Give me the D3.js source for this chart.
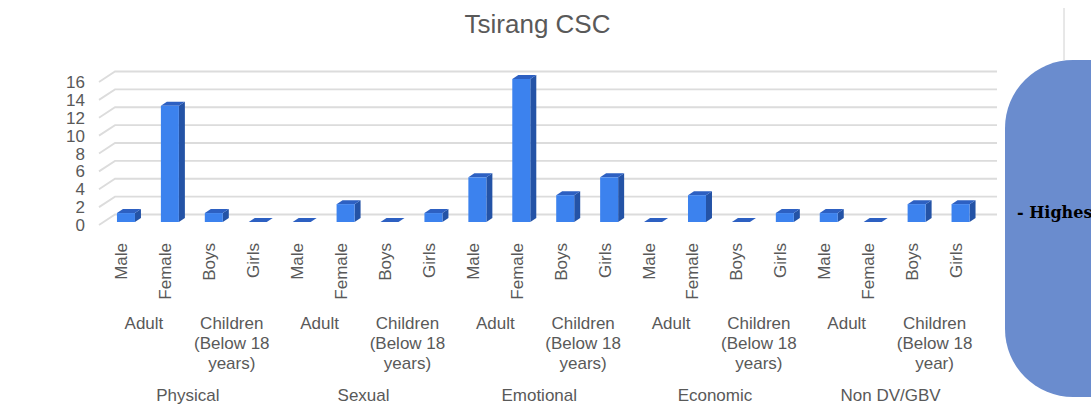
<!DOCTYPE html>
<html>
<head>
<meta charset="utf-8">
<script src="https://cdn.jsdelivr.net/npm/d3@7/dist/d3.min.js"></script>
<style>
  html, body { margin: 0; padding: 0; background: #fff; }
  svg { display: block; }
</style>
</head>
<body>
<svg id="chart" width="1091" height="408"></svg>
<script>
// Case counts by violence type, age group and sex
const violenceTypes = ["Physical", "Sexual", "Emotional", "Economic", "Non DV/GBV"];
const ageGroups = [
  [["Adult"], ["Children", "(Below 18", "years)"]],
  [["Adult"], ["Children", "(Below 18", "years)"]],
  [["Adult"], ["Children", "(Below 18", "years)"]],
  [["Adult"], ["Children", "(Below 18", "years)"]],
  [["Adult"], ["Children", "(Below 18", "year)"]]
];
const sexLabels = ["Male", "Female", "Boys", "Girls"];
const physical  = [1, 13, 1, 0];
const sexual    = [0, 2, 0, 1];
const emotional = [5, 16, 3, 5];
const economic  = [0, 3, 0, 1];
const nonDvGbv  = [1, 0, 2, 2];
const yTicks = [0, 2, 4, 6, 8, 10, 12, 14, 16];
const title = "Tsirang CSC";
const panelNote = "- Highest";

const seriesByType = [physical, sexual, emotional, economic, nonDvGbv];
const rows = [];
violenceTypes.forEach((t, ti) => {
  sexLabels.forEach((s, si) => {
    rows.push({ key: ti * 4 + si, type: t, ti, si, sex: s, value: seriesByType[ti][si] });
  });
});

const svg = d3.select("#chart");
const FONT = "'Liberation Sans', Arial, sans-serif";
const GREY = "#595959";

const x = d3.scaleBand().domain(rows.map(d => d.key)).range([100, 978.5]).padding(0);
const bw = x.bandwidth();
const cx = k => x(k) + bw / 2;

// back wall scale; bar fronts sit a little forward of it
const yBack = d3.scaleLinear().domain([0, 16]).range([214.5, 71.5]);
const frontDy = 7.5;
const yFront = v => yBack(v) + frontDy;
const depth = { dx: 6, dy: -4 };
const floorSlant = { dx: 16, dy: -10.5 };
const wallLeft = 115, wallRight = 997;

// title
svg.append("text")
  .attr("x", 537.5).attr("y", 33)
  .attr("text-anchor", "middle")
  .attr("font-family", FONT).attr("font-size", 26)
  .attr("fill", GREY)
  .text(title);

// gridlines: slanted side edge plus back wall line
const grid = svg.append("g");
yTicks.forEach(v => {
  const yb = yBack(v);
  grid.append("path")
    .attr("d", `M${wallLeft - floorSlant.dx},${yb - floorSlant.dy}L${wallLeft},${yb}L${wallRight},${yb}`)
    .attr("fill", "none").attr("stroke", "#dcdcdc").attr("stroke-width", 1.8);
});

// y tick labels
svg.append("g").selectAll("text").data(yTicks).join("text")
  .attr("x", 85).attr("y", v => yBack(v) + 11)
  .attr("text-anchor", "end").attr("dominant-baseline", "central")
  .attr("font-family", FONT).attr("font-size", 17).attr("fill", GREY)
  .text(d => d);

// 3D bars: side, top and front faces
const barW = 18;
const barLeft = k => cx(k) - 5;
const bars = svg.append("g").selectAll("g").data(rows).join("g");
bars.append("path")
  .attr("fill", "#2453a6")
  .attr("d", d => {
    const x1 = barLeft(d.key) + barW, yt = yFront(d.value), yb = yFront(0);
    return `M${x1},${yb}L${x1 + depth.dx},${yb + depth.dy}L${x1 + depth.dx},${yt + depth.dy}L${x1},${yt}Z`;
  });
bars.append("path")
  .attr("fill", "#2d60c2")
  .attr("d", d => {
    const x0 = barLeft(d.key), yt = yFront(d.value);
    return `M${x0},${yt}L${x0 + barW},${yt}L${x0 + barW + depth.dx},${yt + depth.dy}L${x0 + depth.dx},${yt + depth.dy}Z`;
  });
bars.filter(d => d.value > 0).append("rect")
  .attr("fill", "#3c82ee")
  .attr("x", d => barLeft(d.key))
  .attr("y", d => yFront(d.value))
  .attr("width", barW)
  .attr("height", d => yFront(0) - yFront(d.value));

// category labels, rotated
svg.append("g").selectAll("text").data(rows).join("text")
  .attr("transform", d => `translate(${cx(d.key)},243) rotate(-90)`)
  .attr("text-anchor", "end").attr("dominant-baseline", "central")
  .attr("font-family", FONT).attr("font-size", 17).attr("fill", GREY)
  .text(d => d.sex);

// age group labels
const ageData = [];
violenceTypes.forEach((t, ti) => {
  ageGroups[ti].forEach((lines, gi) => {
    const k0 = ti * 4 + gi * 2;
    ageData.push({ lines, xc: (cx(k0) + cx(k0 + 1)) / 2 });
  });
});
const ageText = svg.append("g").selectAll("text").data(ageData).join("text")
  .attr("text-anchor", "middle")
  .attr("font-family", FONT).attr("font-size", 17).attr("fill", GREY);
ageText.selectAll("tspan").data(d => d.lines.map(l => ({ l, xc: d.xc }))).join("tspan")
  .attr("x", d => d.xc)
  .attr("y", (d, i) => 329 + i * 20)
  .text(d => d.l);

// violence type labels
svg.append("g").selectAll("text").data(violenceTypes).join("text")
  .attr("x", (t, ti) => (cx(ti * 4) + cx(ti * 4 + 3)) / 2)
  .attr("y", 401)
  .attr("text-anchor", "middle")
  .attr("font-family", FONT).attr("font-size", 17).attr("fill", GREY)
  .text(d => d);

// side panel running off the right edge
svg.append("line")
  .attr("x1", 1064).attr("x2", 1064).attr("y1", 8).attr("y2", 60)
  .attr("stroke", "#d0d0d0").attr("stroke-width", 1);
svg.append("rect")
  .attr("x", 1005).attr("y", 60).attr("width", 220).attr("height", 337)
  .attr("rx", 68).attr("ry", 68)
  .attr("fill", "#6a8cce");
svg.append("text")
  .attr("x", 1017).attr("y", 218)
  .attr("font-family", "'DejaVu Serif', serif").attr("font-weight", "bold")
  .attr("font-size", 16).attr("fill", "#000")
  .text(panelNote);
</script>
</body>
</html>
